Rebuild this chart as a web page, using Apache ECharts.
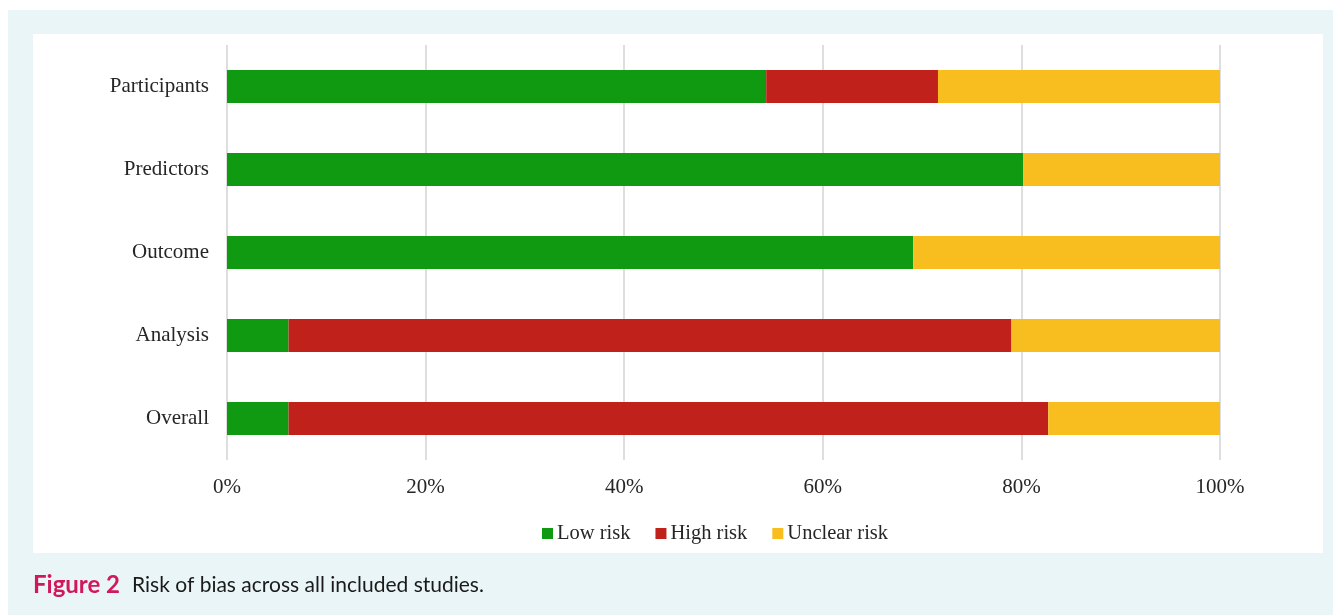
<!DOCTYPE html>
<html>
<head>
<meta charset="utf-8">
<script src="https://cdn.jsdelivr.net/npm/echarts@6/dist/echarts.min.js"></script>
<style>
  html, body { margin: 0; padding: 0; background: #ffffff; }
  #chart { width: 1333px; height: 615px; }
</style>
</head>
<body>
<div id="chart"></div>
<script>
// Risk-of-bias domains (top to bottom) and share of studies per judgement, in %
const domains = ['Participants', 'Predictors', 'Outcome', 'Analysis', 'Overall'];
const lowRisk = [54.3, 80.2, 69.1, 6.2, 6.2];
const highRisk = [17.3, 0, 0, 72.8, 76.5];
const unclearRisk = [28.4, 19.8, 30.9, 21.0, 17.3];
const seriesNames = ['Low risk', 'High risk', 'Unclear risk'];
const seriesColors = ['#109a12', '#c0221b', '#f8bd1f'];
const captionLead = 'Figure 2';
const captionText = 'Risk of bias across all included studies.';

const serif = '"Liberation Serif", "DejaVu Serif", serif';
const chart = echarts.init(document.getElementById('chart'), null, { renderer: 'canvas' });

const values = [lowRisk, highRisk, unclearRisk];

chart.setOption({
  animation: false,
  backgroundColor: '#ffffff',
  graphic: [
    { type: 'rect', z: -10, shape: { x: 8, y: 10, width: 1325, height: 605 }, style: { fill: '#eaf5f7' }, silent: true },
    { type: 'rect', z: -9, shape: { x: 33, y: 34, width: 1290, height: 519 }, style: { fill: '#ffffff' }, silent: true },
    {
      type: 'text', left: 33, top: 573, silent: true,
      style: {
        text: '{a|' + captionLead + '}{b|' + captionText + '}',
        rich: {
          a: { fontFamily: 'Lato, "Open Sans", sans-serif', fontWeight: 'bold', fontSize: 24, fill: '#d0185a', padding: [0, 12, 0, 0] },
          b: { fontFamily: 'Lato, "Open Sans", sans-serif', fontSize: 21, fill: '#1a1a1a' }
        }
      }
    }
  ],
  grid: { left: 227, right: 113, top: 45, bottom: 155, containLabel: false },
  legend: {
    left: 537, top: 518,
    icon: 'rect', itemWidth: 11, itemHeight: 11, itemGap: 25,
    textStyle: { fontFamily: serif, fontSize: 20.5, color: '#262626', padding: [0, 0, 0, -1] },
    data: seriesNames,
    selectedMode: false
  },
  xAxis: {
    type: 'value', min: 0, max: 100, interval: 20,
    axisLine: { show: false }, axisTick: { show: false },
    axisLabel: { formatter: '{value}%', fontFamily: serif, fontSize: 21, color: '#262626', margin: 17 },
    splitLine: { lineStyle: { color: '#dedede', width: 2 } }
  },
  yAxis: {
    type: 'category', data: domains, inverse: true,
    axisLine: { show: false }, axisTick: { show: false },
    axisLabel: { fontFamily: serif, fontSize: 21, color: '#262626', margin: 18, padding: [5, 0, 0, 0] }
  },
  series: seriesNames.map((name, i) => ({
    name: name,
    type: 'bar',
    stack: 'risk',
    barWidth: 33,
    itemStyle: { color: seriesColors[i] },
    emphasis: { disabled: true },
    data: values[i]
  }))
});
</script>
</body>
</html>
